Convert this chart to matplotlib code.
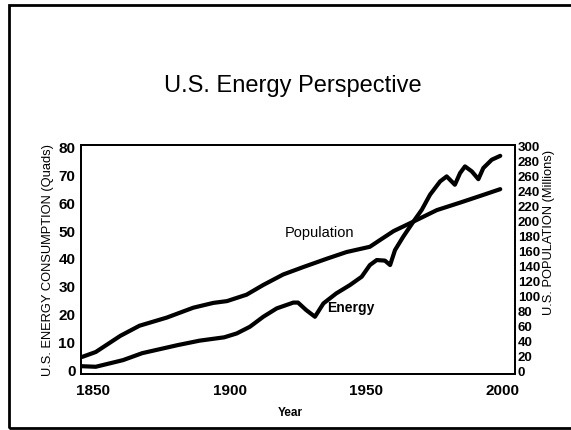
import numpy as np
import matplotlib.pyplot as plt
from matplotlib.patches import Rectangle

plt.rcParams["font.family"] = ["Liberation Sans", "DejaVu Sans"]

# values
energy_year = [1846, 1851, 1861, 1868, 1881, 1889, 1898, 1902.6, 1907.4, 1912.3,
               1917.2, 1923.3, 1925, 1928, 1931.2, 1934.3, 1939, 1944, 1948.3,
               1951.3, 1953.8, 1956.8, 1958.7, 1960.5, 1963.5, 1967.2, 1970.3,
               1973.3, 1977, 1979.4, 1982.4, 1984.3, 1986.1, 1988.6, 1991,
               1992.8, 1995.9, 1999]
energy_quads = [1.4, 1.2, 3.6, 6.1, 9.0, 10.6, 11.8, 13.2, 15.6, 19.2, 22.2, 24.3,
                24.3, 21.6, 19.2, 24.0, 27.6, 30.6, 33.6, 37.8, 39.6, 39.4, 37.8,
                43.2, 48.0, 53.4, 57.7, 63.1, 67.9, 69.7, 66.7, 70.9, 73.3, 71.5,
                68.7, 72.7, 75.7, 77.1]

pop_year = [1846, 1851, 1860, 1867, 1877, 1886.7, 1894, 1899, 1906.2, 1912.3,
            1919.6, 1927, 1935.5, 1942.8, 1951.3, 1955, 1960, 1967.2, 1975.8,
            1984.3, 1992.2, 1999]
pop_millions = [18.8, 25.4, 47, 60.5, 71.4, 84.6, 91, 93.4, 102, 115, 129, 139,
                150, 159, 166, 175, 187, 199.6, 215, 225, 234.6, 243]

x_ticks = [1850, 1900, 1950, 2000]
left_ticks = np.arange(0, 81, 10)
right_ticks = np.arange(0, 301, 20)

fig = plt.figure(figsize=(5.71, 4.3), dpi=100)
fig.patches.append(Rectangle((9 / 571, 1 - 428 / 430), 1.5, 423 / 430,
                             transform=fig.transFigure, fill=False,
                             edgecolor="black", linewidth=2))

ax = fig.add_axes([81 / 571, 1 - 374 / 430, 434 / 571, 229 / 430])
ax2 = ax.twinx()

line_kw = dict(color="black", lw=3, solid_joinstyle="round", solid_capstyle="round")
ax.plot(energy_year, energy_quads, **line_kw)
ax2.plot(pop_year, pop_millions, **line_kw)

ax.set_xlim(1845.6, 2004.4)
ax.set_ylim(-1.4, 81)
ax2.set_ylim(-4, 302)

ax.set_xticks(x_ticks)
ax.set_yticks(left_ticks)
ax2.set_yticks(right_ticks)
ax.tick_params(axis="x", length=0, pad=7, labelsize=11)
ax.tick_params(axis="y", length=0, pad=4, labelsize=11)
ax2.tick_params(axis="y", length=0, pad=2, labelsize=9.5)
for lab in ax.get_xticklabels() + ax.get_yticklabels() + ax2.get_yticklabels():
    lab.set_fontweight("bold")

for a in (ax, ax2):
    for s in a.spines.values():
        s.set_linewidth(1.3)

ax.set_xlabel("Year", fontsize=8.5, fontweight="bold")
ax.xaxis.set_label_coords((290 - 81) / 434, -0.145)
ax.set_ylabel("U.S. ENERGY CONSUMPTION (Quads)", fontsize=9.3, labelpad=3)
ax2.set_ylabel("U.S. POPULATION (Millions)", fontsize=9.3, labelpad=2)
ax2.yaxis.label.set_position((1, 0.62))

ax.text(1933, 49.5, "Population", fontsize=10.5, ha="center", va="center")
ax.text(1944.5, 22.5, "Energy", fontsize=10, fontweight="bold", ha="center", va="center")

fig.text(293 / 571, 1 - 86 / 430, "U.S. Energy Perspective", fontsize=17,
         ha="center", va="center")

plt.savefig("out.png", dpi=100)
